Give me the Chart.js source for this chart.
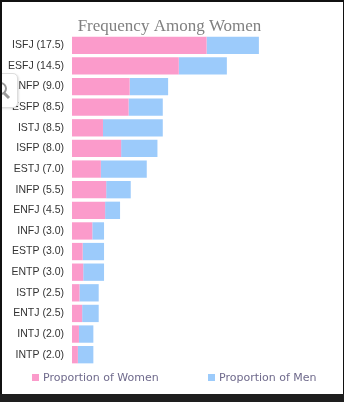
<!DOCTYPE html>
<html>
<head>
<meta charset="utf-8">
<script src="https://cdn.jsdelivr.net/npm/chart.js@4.4.1/dist/chart.umd.min.js"></script>
<style>
  html, body { margin: 0; padding: 0; background: #fff; }
  body { width: 344px; height: 402px; position: relative; overflow: hidden; }
  #wrap { position: absolute; left: 0; top: 0; width: 344px; height: 394px; }
  .edge { position: absolute; background: #111; }
  #legend { position: absolute; left: 0; top: 371px; width: 344px; height: 14px;
            font: 11px "DejaVu Sans", Verdana, sans-serif; color: #6f6a8c; }
  .item { position: absolute; top: 0; white-space: nowrap; line-height: 13px; }
  .box { display: inline-block; width: 7px; height: 7px; margin-right: 4px; vertical-align: 0px; }
  #zoomBtn { position: absolute; left: -1px; top: 73px; width: 17px; height: 33px;
             background: #fff; border: 1px solid #ddd; border-radius: 0 5px 5px 0;
             box-shadow: 1px 1px 2px rgba(0,0,0,0.12); overflow: hidden; }
  #zoomBtn .lens { position: absolute; left: -6px; top: 8px; width: 9px; height: 9px;
                   border: 2px solid #9a9a9a; border-radius: 50%; }
  #zoomBtn .handle { position: absolute; left: 3px; top: 20px; width: 7px; height: 3px;
                     background: #9a9a9a; transform: rotate(45deg); }
</style>
</head>
<body>
<div id="wrap"><canvas id="chart"></canvas></div>
<div id="legend"></div>
<div id="zoomBtn"><div class="lens"></div><div class="handle"></div></div>
<div class="edge" style="left:0;top:0;width:344px;height:2px"></div>
<div class="edge" style="left:0;top:0;width:2px;height:402px"></div>
<div class="edge" style="left:343px;top:0;width:1px;height:402px"></div>
<div class="edge" style="left:0;top:394px;width:344px;height:8px;background:#1e1e1e"></div>
<script>
// personality types, ordered as shown (value in brackets = % among women)
const types = [
  "ISFJ (17.5)", "ESFJ (14.5)", "ENFP (9.0)", "ESFP (8.5)",
  "ISTJ (8.5)", "ISFP (8.0)", "ESTJ (7.0)", "INFP (5.5)",
  "ENFJ (4.5)", "INFJ (3.0)", "ESTP (3.0)", "ENTP (3.0)",
  "ISTP (2.5)", "ENTJ (2.5)", "INTJ (2.0)", "INTP (2.0)"
];

// each bar is split by the women / men proportion of that type
const women = [12.6, 10.0, 5.4, 5.3, 2.9, 4.6, 2.7, 3.2, 3.1, 1.9, 1.0, 1.05, 0.7, 0.95, 0.65, 0.55];
const men   = [4.9, 4.5, 3.6, 3.2, 5.6, 3.4, 4.3, 2.3, 1.4, 1.1, 2.0, 1.95, 1.8, 1.55, 1.35, 1.45];

const seriesNames = ["Proportion of Women", "Proportion of Men"];
const xMax = 25;

const PINK = "#fb9bcb";
const BLUE = "#9ccbfb";

const chart = new Chart(document.getElementById("chart"), {
  type: "bar",
  data: {
    labels: types,
    datasets: [
      { label: seriesNames[0], data: women, backgroundColor: PINK },
      { label: seriesNames[1], data: men, backgroundColor: BLUE }
    ]
  },
  options: {
    indexAxis: "y",
    responsive: true,
    maintainAspectRatio: false,
    animation: false,
    layout: { padding: { top: 15, right: 5, bottom: 29, left: 0 } },
    datasets: { bar: { categoryPercentage: 1, barPercentage: 0.84 } },
    scales: {
      x: {
        stacked: true,
        display: false,
        min: 0,
        max: xMax
      },
      y: {
        stacked: true,
        grid: { display: false, drawTicks: false },
        border: { display: false },
        ticks: {
          padding: 8,
          color: "#333",
          font: { family: "'Liberation Sans', Arial, sans-serif", size: 10.5 }
        },
        afterFit: s => { s.width = 72; }
      }
    },
    plugins: {
      legend: { display: false },
      tooltip: { enabled: false },
      title: {
        display: true,
        text: "Frequency Among Women",
        color: "#808080",
        padding: { top: 3, bottom: 0 },
        font: { family: "'Liberation Serif', 'Times New Roman', serif", size: 17, weight: "normal", lineHeight: 1.0 }
      }
    }
  }
});

/* ===============================
   LEGEND (html, from the datasets)
================================ */

const legendLefts = [32, 208];
document.getElementById("legend").innerHTML = chart.data.datasets
  .map((ds, i) => `
    <span class="item" style="left:${legendLefts[i]}px">
      <span class="box" style="background:${ds.backgroundColor}"></span>${ds.label}
    </span>`)
  .join("");
</script>
</body>
</html>
